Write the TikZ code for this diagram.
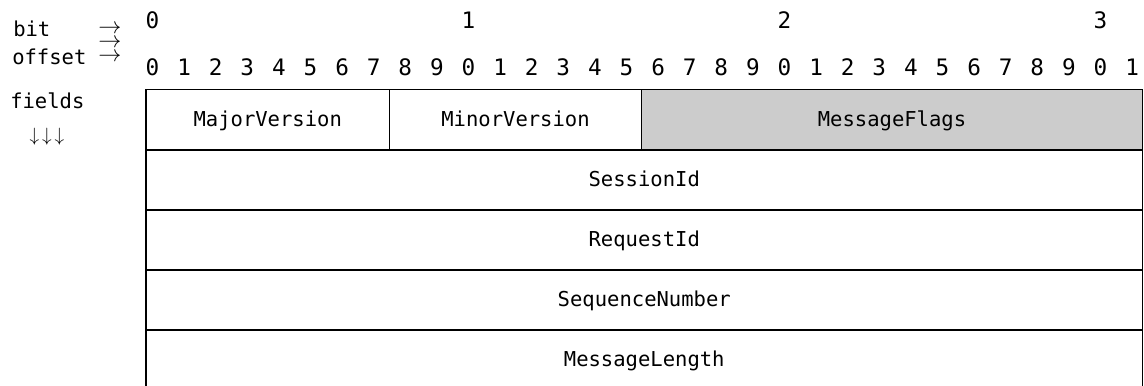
\documentclass[tikz,border=0pt]{standalone}
\usepackage{fontspec}
\setmonofont{DejaVu Sans Mono}
\definecolor{flaggray}{HTML}{CCCCCC}
\begin{document}
\begin{tikzpicture}[x=0.75pt,y=-0.75pt,
  fld/.style={anchor=base,inner sep=0pt,font=\ttfamily\fontsize{15.4}{18}\selectfont},
  dig/.style={inner sep=0pt,font=\ttfamily\fontsize{17}{20}\selectfont},
  lbl/.style={anchor=west,inner sep=0pt,font=\ttfamily\fontsize{15.4}{18}\selectfont},
  arr/.style={inner sep=0pt,font=\fontsize{17}{20}\selectfont},
  cell/.style={draw=black,line width=1.2pt}]
\useasboundingbox (0,0) rectangle (1144,385);
\clip (0,0) rectangle (1144,385);
% left labels
\node[lbl] (bit) at (13,29) {bit};
\node[lbl] (offset) at (12,57) {offset};
\node[lbl] (fields) at (10,101) {fields};
\node[arr,align=center,font=\fontsize{17}{10.5}\selectfont] (ra) at (110,43.5)
  {$\rightarrow$\\$\rightarrow$\\$\rightarrow$};
\node[arr,font=\fontsize{15}{18}\selectfont] (da) at (47,137)
  {$\downarrow\hspace{2.2pt}\downarrow\hspace{2.2pt}\downarrow$};
% bit numbers
\foreach \i/\t in {0/0,10/1,20/2,30/3}
  \node[dig] (t\t) at ({152.5+31.6*\i},20) {\t};
\foreach \i in {0,...,31}{
  \pgfmathtruncatemacro\d{mod(\i,10)}
  \node[dig] (b\i) at ({152.5+31.6*\i},67.5) {\d};
}
% fields
\path[cell] (146,89.5) rectangle (389.5,149.7);
\path[cell] (389.5,89.5) rectangle (641.5,149.7);
\path[cell,fill=flaggray] (641.5,89.5) rectangle (1142.5,149.7);
\path[cell] (146,149.7) rectangle (1142.5,209.7);
\path[cell] (146,209.7) rectangle (1142.5,269.7);
\path[cell] (146,269.7) rectangle (1142.5,329.7);
\path[cell] (146,329.7) rectangle (1142.5,389.7);
\node[fld] (major) at (267.75,126) {MajorVersion};
\node[fld] (minor) at (515.5,126) {MinorVersion};
\node[fld] (flags) at (892,126) {MessageFlags};
\node[fld] (session) at (644.25,186.2) {SessionId};
\node[fld] (request) at (644.25,246.2) {RequestId};
\node[fld] (seq) at (644.25,306.2) {SequenceNumber};
\node[fld] (len) at (644.25,366.2) {MessageLength};
\end{tikzpicture}
\end{document}
